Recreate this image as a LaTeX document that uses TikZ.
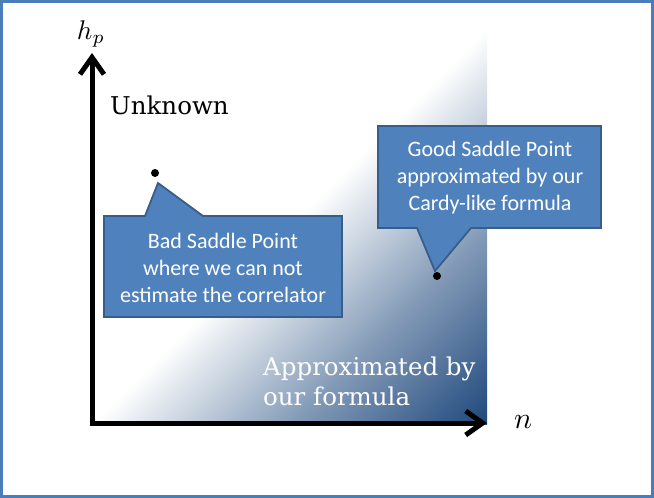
\documentclass[tikz,border=0pt]{standalone}
\usepackage{graphicx}
\usepackage{fontspec}
\setmainfont{DejaVu Serif}
\newfontfamily\calib{Carlito}
\usetikzlibrary{arrows.meta}
\definecolor{gdark}{HTML}{1F497D}
\definecolor{cfill}{HTML}{4F81BD}
\definecolor{cline}{HTML}{385D8A}
\definecolor{frameblue}{HTML}{4A7EBB}
\colorlet{gmid}{gdark!55}
\pgfdeclarehorizontalshading{diagshade}{100bp}{color(0bp)=(white); color(50bp)=(white); color(68bp)=(gmid); color(85.4bp)=(gdark); color(100bp)=(gdark)}
\tikzset{
  axisline/.style={line width=5pt, -{Straight Barb[length=17pt,width=24pt]}},
  callout/.style={fill=cfill, draw=cline, line width=1.8pt, line join=miter},
  callouttext/.style={text=white, font=\calib\fontsize{22}{27}\selectfont, align=center, inner sep=0pt},
  regiontext/.style={font=\fontsize{24.5}{30}\selectfont, inner sep=0pt},
  mathlabel/.style={inner sep=0pt},
  dot/.style={circle, fill=black, inner sep=0pt, minimum size=8pt},
}
\begin{document}
\begin{tikzpicture}[x=1pt,y=-1pt]
\useasboundingbox (0,0) rectangle (654,498);
\fill[white] (0,0) rectangle (654,498);
% gradient region
\shade[shading=diagshade, shading angle=-45] (91,28) rectangle (487,424);
% frame
\draw[line width=3pt, frameblue] (1.5,1.5) rectangle (652.5,496.5);
% axes
\coordinate (O) at (92,423);
\coordinate (ytip) at (92,53);
\coordinate (xtip) at (487,423);
\draw[axisline] (92,425.5) -- (ytip);
\draw[axisline] (89.5,423) -- (xtip);
\node[mathlabel] (hp) at (91,34) {\scalebox{2.7}{$h_p$}};
\node[mathlabel] (n) at (523,422) {\scalebox{3.0}{$n$}};
% region labels
\node[regiontext, anchor=base west] (unknown) at (110,114) {Unknown};
\node[regiontext, anchor=base west, text=white] (approx1) at (263,375) {Approximated by};
\node[regiontext, anchor=base west, text=white] (approx2) at (263,405) {our formula};
% saddle points
\node[dot] (bad) at (155,173) {};
\node[dot] (good) at (437,276) {};
% callouts
\draw[callout] (104,216) -- (145,216) -- (158,183) -- (203,216) -- (342,216) -- (342,317) -- (104,317) -- cycle;
\draw[callout] (378,126) -- (601,126) -- (601,228) -- (471,228) -- (435,271) -- (417,228) -- (378,228) -- cycle;
\node[callouttext] (badtext) at (223,268) {Bad Saddle Point\\where we can not\\estimate the correlator};
\node[callouttext] (goodtext) at (490,178) {Good Saddle Point\\approximated by our\\Cardy-like formula};
\end{tikzpicture}
\end{document}
